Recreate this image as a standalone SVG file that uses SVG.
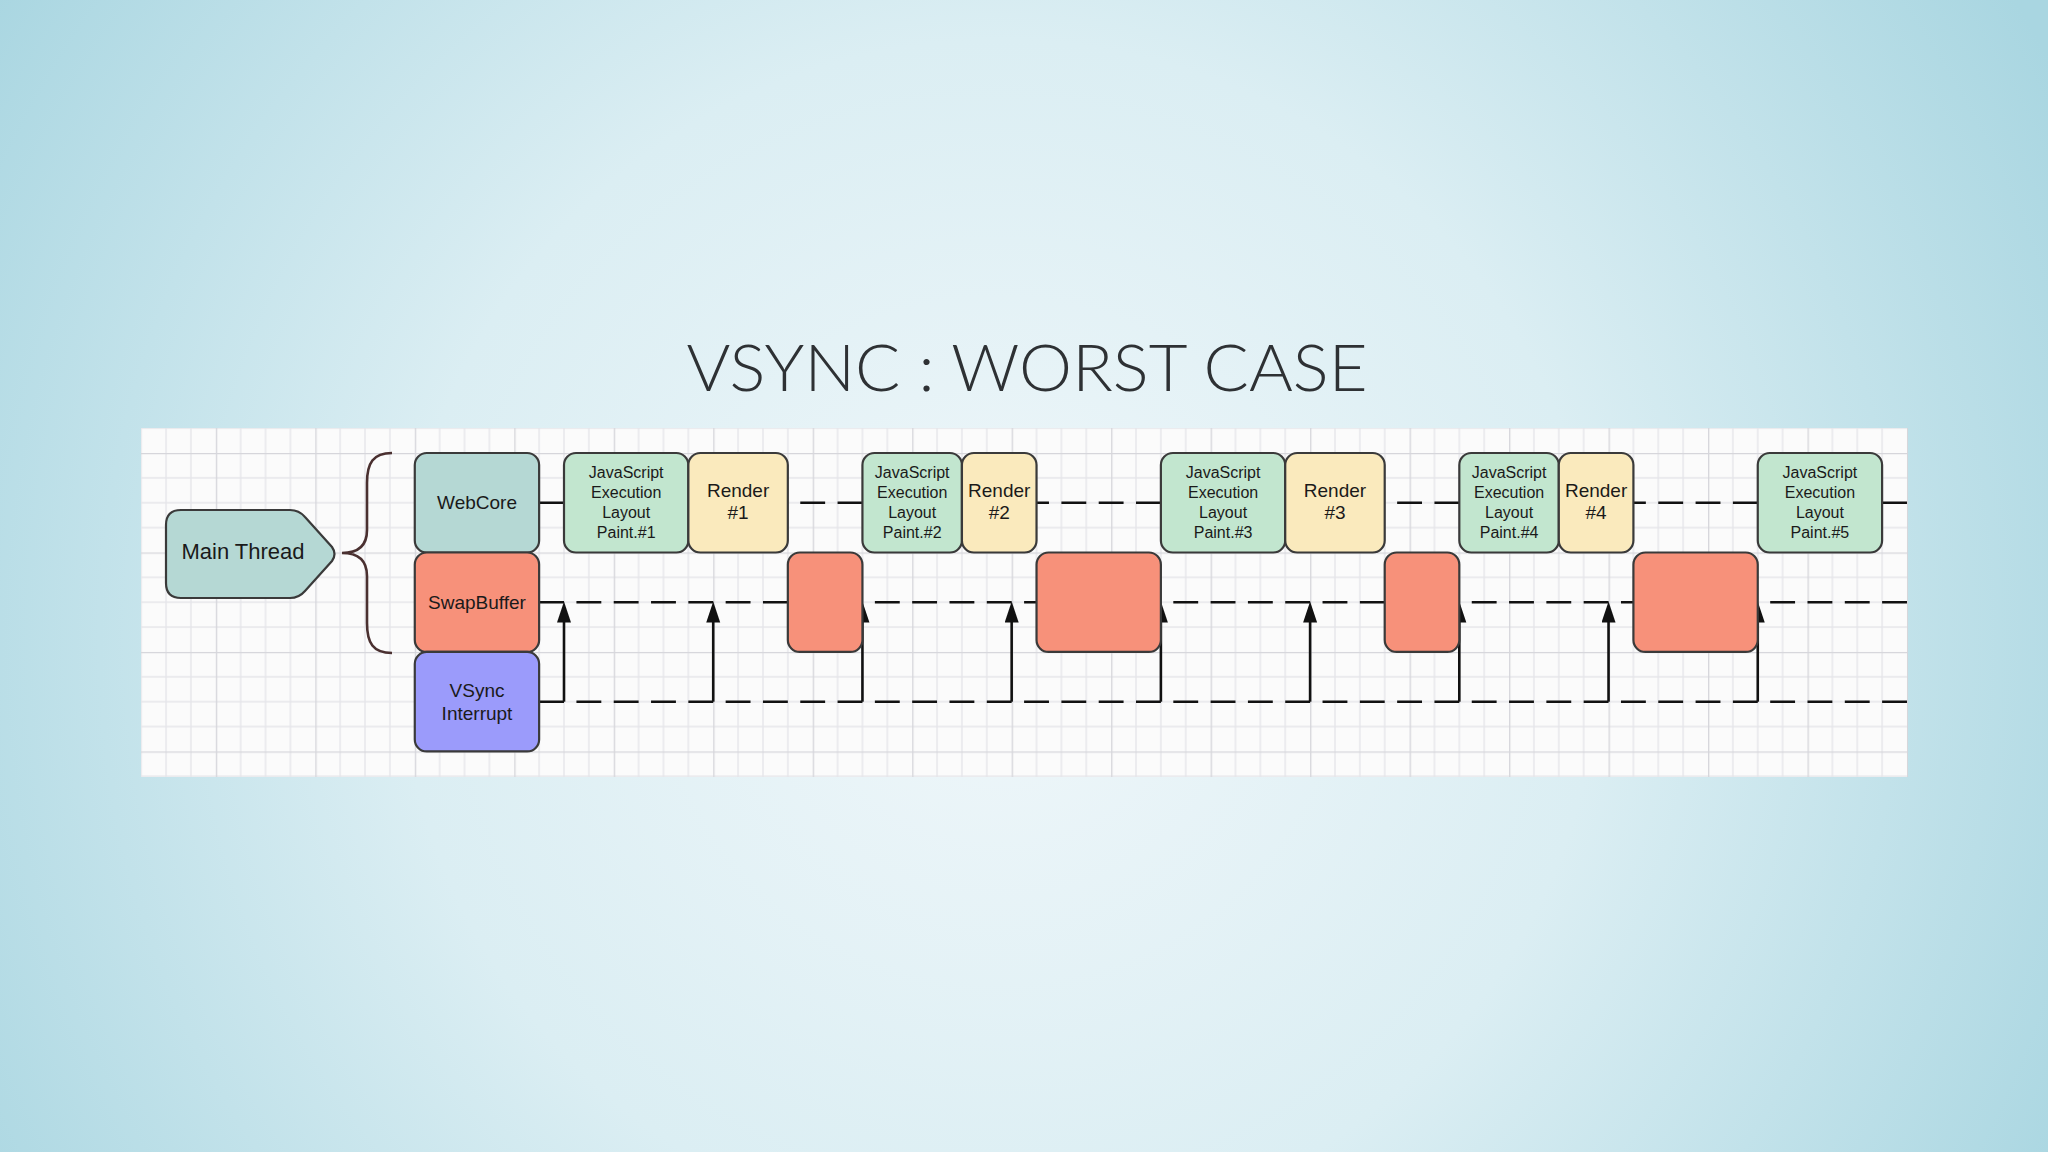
<svg xmlns="http://www.w3.org/2000/svg" width="2048" height="1152" viewBox="0 0 2048 1152">
  <defs>
    <radialGradient id="bg" gradientUnits="userSpaceOnUse" cx="1000" cy="640" r="1200">
      <stop offset="0" stop-color="#f0f7fa"/>
      <stop offset="0.5" stop-color="#dbeef3"/>
      <stop offset="1" stop-color="#a9d6e1"/>
    </radialGradient>
    <pattern id="grid" patternUnits="userSpaceOnUse" x="414.78" y="453" width="99.48" height="99.48">
      <path d="M24.87,0V99.48M49.74,0V99.48M74.61,0V99.48M0,24.87H99.48M0,49.74H99.48M0,74.61H99.48" stroke="#e6e6ea" stroke-width="1.4" fill="none"/>
      <path d="M0.6,0V99.48M0,0.6H99.48" stroke="#d6d6db" stroke-width="1.5" fill="none"/>
    </pattern>
    <marker id="arrow" markerUnits="userSpaceOnUse" markerWidth="22" markerHeight="16" viewBox="0 0 22 16" refX="11" refY="7" orient="auto">
      <path d="M0,0 L21,7 L0,14 Z" fill="#111"/>
    </marker>
    <style>
      .box { stroke: #3a3a3a; stroke-width: 2.2; }
      .teal { fill: #b5d8d4; }
      .js { fill: #c2e6cf; }
      .rnd { fill: #faeabd; }
      .swap { fill: #f7917a; }
      .vs { fill: #9b9bfb; }
      .t { font-family: "Liberation Sans", Arial, sans-serif; fill: #1a1a1a; text-anchor: middle; }
      .t16 { font-size: 16px; }
      .t19 { font-size: 19px; }
      .dash { fill: none; stroke: #111; stroke-width: 2.6; stroke-dasharray: 24.87 12.435; }
      .vline { fill: none; stroke: #111; stroke-width: 2.6; marker-end: url(#arrow); }
    </style>
  </defs>

  <rect x="0" y="0" width="2048" height="1152" fill="url(#bg)"/>

  <text x="1027" y="391" font-family="Lato, 'Open Sans', sans-serif" font-weight="300" font-size="66" fill="#2e3134" text-anchor="middle" textLength="681" lengthAdjust="spacingAndGlyphs">VSYNC : WORST CASE</text>

  <g id="panel">
    <rect x="141" y="428" width="1767" height="349" fill="#fbfbfb"/>
    <rect x="141" y="428" width="1767" height="349" fill="url(#grid)"/>
  </g>

  <g id="connectors">
    <path class="dash" d="M539.13,502.74H1908"/>
    <path class="dash" d="M539.13,602.22H1908"/>
    <path class="dash" d="M539.13,701.7H1908"/>
    <path class="vline" d="M564,701.7V611.5"/>
    <path class="vline" d="M713.22,701.7V611.5"/>
    <path class="vline" d="M862.44,701.7V611.5"/>
    <path class="vline" d="M1011.66,701.7V611.5"/>
    <path class="vline" d="M1160.88,701.7V611.5"/>
    <path class="vline" d="M1310.1,701.7V611.5"/>
    <path class="vline" d="M1459.32,701.7V611.5"/>
    <path class="vline" d="M1608.54,701.7V611.5"/>
    <path class="vline" d="M1757.76,701.7V611.5"/>
  </g>

  <g id="brace">
    <path d="M392,453 C373,453 367,463 367,483 L367,530 C367,546 358,553 342,553 C358,553 367,560 367,576 L367,623 C367,643 373,653 392,653" fill="none" stroke="#4a3030" stroke-width="2.6"/>
  </g>

  <g id="main-thread">
    <path class="box teal" d="M181,510 L290,510 Q299,510 305,517 L332,547 Q337,554 332,561 L305,591 Q299,598 290,598 L181,598 Q166,598 166,583 L166,525 Q166,510 181,510 Z"/>
    <text class="t" x="243" y="559" font-size="22">Main Thread</text>
  </g>

  <g id="webcore">
    <rect class="box teal" x="414.78" y="453" width="124.35" height="99.48" rx="12"/>
    <text class="t t19" x="477" y="509">WebCore</text>
  </g>
  <g id="swapbuffer">
    <rect class="box swap" x="414.78" y="552.48" width="124.35" height="99.48" rx="12"/>
    <text class="t t19" x="477" y="609">SwapBuffer</text>
  </g>
  <g id="vsync">
    <rect class="box vs" x="414.78" y="651.96" width="124.35" height="99.48" rx="12"/>
    <text class="t t19" x="477" y="697">VSync</text>
    <text class="t t19" x="477" y="720">Interrupt</text>
  </g>

  <g id="js1">
    <rect class="box js" x="564" y="453" width="124.35" height="99.48" rx="12"/>
    <text class="t t16" x="626.2" y="478">JavaScript</text>
    <text class="t t16" x="626.2" y="498">Execution</text>
    <text class="t t16" x="626.2" y="518">Layout</text>
    <text class="t t16" x="626.2" y="537.5">Paint.#1</text>
  </g>
  <g id="render1">
    <rect class="box rnd" x="688.35" y="453" width="99.48" height="99.48" rx="12"/>
    <text class="t t19" x="738.1" y="497">Render</text>
    <text class="t t19" x="738.1" y="519">#1</text>
  </g>
  <g id="swap1">
    <rect class="box swap" x="787.83" y="552.48" width="74.61" height="99.48" rx="12"/>
  </g>

  <g id="js2">
    <rect class="box js" x="862.44" y="453" width="99.48" height="99.48" rx="12"/>
    <text class="t t16" x="912.2" y="478">JavaScript</text>
    <text class="t t16" x="912.2" y="498">Execution</text>
    <text class="t t16" x="912.2" y="518">Layout</text>
    <text class="t t16" x="912.2" y="537.5">Paint.#2</text>
  </g>
  <g id="render2">
    <rect class="box rnd" x="961.92" y="453" width="74.61" height="99.48" rx="12"/>
    <text class="t t19" x="999.2" y="497">Render</text>
    <text class="t t19" x="999.2" y="519">#2</text>
  </g>
  <g id="swap2">
    <rect class="box swap" x="1036.53" y="552.48" width="124.35" height="99.48" rx="12"/>
  </g>

  <g id="js3">
    <rect class="box js" x="1160.88" y="453" width="124.35" height="99.48" rx="12"/>
    <text class="t t16" x="1223.1" y="478">JavaScript</text>
    <text class="t t16" x="1223.1" y="498">Execution</text>
    <text class="t t16" x="1223.1" y="518">Layout</text>
    <text class="t t16" x="1223.1" y="537.5">Paint.#3</text>
  </g>
  <g id="render3">
    <rect class="box rnd" x="1285.23" y="453" width="99.48" height="99.48" rx="12"/>
    <text class="t t19" x="1335" y="497">Render</text>
    <text class="t t19" x="1335" y="519">#3</text>
  </g>
  <g id="swap3">
    <rect class="box swap" x="1384.71" y="552.48" width="74.61" height="99.48" rx="12"/>
  </g>

  <g id="js4">
    <rect class="box js" x="1459.32" y="453" width="99.48" height="99.48" rx="12"/>
    <text class="t t16" x="1509.1" y="478">JavaScript</text>
    <text class="t t16" x="1509.1" y="498">Execution</text>
    <text class="t t16" x="1509.1" y="518">Layout</text>
    <text class="t t16" x="1509.1" y="537.5">Paint.#4</text>
  </g>
  <g id="render4">
    <rect class="box rnd" x="1558.8" y="453" width="74.61" height="99.48" rx="12"/>
    <text class="t t19" x="1596.1" y="497">Render</text>
    <text class="t t19" x="1596.1" y="519">#4</text>
  </g>
  <g id="swap4">
    <rect class="box swap" x="1633.41" y="552.48" width="124.35" height="99.48" rx="12"/>
  </g>

  <g id="js5">
    <rect class="box js" x="1757.76" y="453" width="124.35" height="99.48" rx="12"/>
    <text class="t t16" x="1819.9" y="478">JavaScript</text>
    <text class="t t16" x="1819.9" y="498">Execution</text>
    <text class="t t16" x="1819.9" y="518">Layout</text>
    <text class="t t16" x="1819.9" y="537.5">Paint.#5</text>
  </g>
</svg>
